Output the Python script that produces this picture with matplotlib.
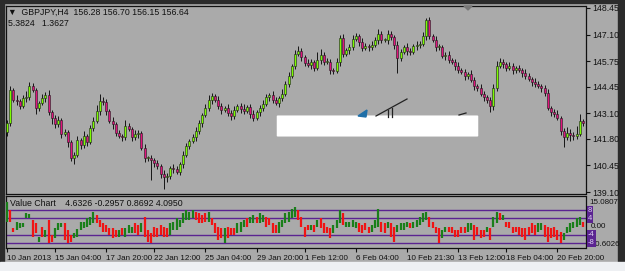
import matplotlib
matplotlib.use('Agg')
import matplotlib.pyplot as plt
import numpy as np
from matplotlib.patches import Rectangle, FancyBboxPatch, Polygon
from matplotlib.lines import Line2D

# --------------------------------------------------
# GBPJPY H4 closes
closes = [142.61, 144.28, 143.77, 143.72, 143.47, 143.88, 143.93, 144.49, 144.28, 143.37,
          143.62, 143.88, 144.03, 143.17, 142.86, 142.55, 142.76, 142.05, 142.15, 141.64,
          140.83, 140.98, 141.74, 141.49, 141.94, 141.64, 142.35, 142.71, 143.22, 143.72,
          143.67, 143.22, 142.71, 142.55, 142.10, 141.94, 141.89, 142.45, 142.30, 141.89,
          142.05, 142.10, 141.34, 140.83, 140.83, 140.73, 140.57, 140.42, 140.01, 139.86,
          139.91, 140.32, 140.27, 140.12, 140.52, 140.98, 141.44, 141.69, 141.89, 142.20,
          142.61, 143.01, 143.37, 143.77, 143.98, 143.77, 143.47, 143.27, 143.37, 143.11,
          142.96, 143.27, 143.47, 143.32, 143.22, 143.42, 143.06, 142.86, 143.17, 143.37,
          143.57, 143.93, 144.03, 143.77, 143.62, 143.88, 144.08, 144.59, 144.99, 145.50,
          146.11, 146.27, 145.96, 145.66, 145.55, 145.71, 145.40, 145.81, 146.06, 145.71,
          145.71, 145.30, 145.25, 145.71, 146.93, 146.11, 146.32, 146.47, 146.87, 147.03,
          146.72, 146.42, 146.52, 146.47, 146.57, 146.82, 147.13, 146.82, 146.82, 147.13,
          146.98, 146.57, 145.91, 146.21, 146.47, 146.27, 146.21, 146.52, 146.57, 146.62,
          147.03, 147.84, 147.03, 146.82, 146.47, 146.47, 146.01, 146.06, 145.81, 145.71,
          145.50, 145.30, 145.20, 144.99, 145.10, 144.79, 144.49, 144.38, 144.08, 143.93,
          143.77, 143.47, 144.38, 145.50, 145.71, 145.60, 145.40, 145.50, 145.30, 145.40,
          145.30, 145.15, 144.99, 144.84, 144.69, 144.59, 144.49, 144.38, 144.13, 143.37,
          143.17, 143.06, 142.86, 142.20, 141.89, 142.10, 141.99, 141.94, 142.05, 142.71,
          142.61]
first_open = 142.15

hi_ext = [.15, .20, .10, .25, .10, .15, .30, .20, .15, .10,
          .10, .20, .15, .25, .10, .15, .20, .10, .15, .10,
          .10, .15, .20, .10, .25, .10, .15, .20, .30, .35,
          .20, .15, .10, .20, .10, .15, .10, .30, .15, .10,
          .20, .15, .10, .20, .10, .15, .10, .15, .10, .20,
          .15, .10, .20, .15, .10, .20, .15, .10, .15, .20,
          .15, .10, .20, .25, .15, .10, .20, .15, .10, .20,
          .15, .20, .10, .15, .25, .10, .15, .20, .10, .15,
          .20, .15, .10, .20, .15, .10, .25, .15, .20, .10,
          .20, .25, .15, .10, .20, .15, .10, .40, .30, .15,
          .20, .15, .10, .20, .15, .20, .10, .15, .20, .15,
          .10, .20, .15, .10, .20, .15, .25, .15, .10, .20,
          .15, .10, .20, .15, .10, .20, .15, .10, .20, .15,
          .20, .10, .15, .10, .20, .15, .10, .15, .20, .10,
          .15, .20, .10, .15, .10, .20, .15, .10, .20, .15,
          .10, .15, .20, .25, .20, .15, .10, .20, .15, .10,
          .15, .10, .20, .15, .10, .20, .15, .10, .15, .20,
          .10, .15, .20, .10, .15, .30, .20, .15, .40, .35,
          .10]
lo_ext = [.20, .15, .10, .20, .15, .10, .20, .15, .10, .30,
          .15, .10, .20, .15, .30, .20, .15, .20, .10, .25,
          .15, .30, .10, .20, .15, .20, .10, .15, .10, .20,
          .15, .20, .10, .25, .15, .10, .20, .15, .10, .20,
          .15, .20, .10, .20, .15, 1.00, .20, .15, .20, .60,
          .25, .15, .20, .10, .15, .20, .10, .15, .10, .20,
          .15, .20, .10, .15, .20, .10, .15, .20, .10, .15,
          .20, .15, .10, .20, .15, .10, .20, .15, .10, .20,
          .15, .10, .20, .15, .10, .20, .15, .10, .15, .10,
          .15, .10, .20, .15, .10, .20, .15, .10, .20, .15,
          .10, .20, .15, .10, .20, .15, .10, .20, .15, .10,
          .20, .15, .10, .20, .15, .10, .20, .15, .10, .20,
          .15, .20, .75, .15, .10, .20, .15, .10, .20, .15,
          .10, .20, .15, .10, .20, .15, .10, .20, .15, .10,
          .20, .15, .10, .20, .15, .10, .20, .15, .10, .20,
          .15, .30, .20, .15, .10, .20, .15, .10, .20, .15,
          .10, .20, .15, .10, .20, .15, .10, .20, .15, .10,
          .20, .15, .10, .20, .50, .15, .30, .20, .15, .10,
          .15]

# Value Chart bars (open, close)
vc_open = [2.0, 8.0, -0.9, -1.75, -0.9, -0.1, 4.0, 4.0, 3.2, 1.5,
           -7.5, -0.1, -5.0, 3.2, -4.2, -5.9, -1.75, -0.1, 1.5, -1.75,
           -4.2, -5.9, -5.0, -1.75, -0.9, -0.1, 0.7, 1.5, 5.7, 3.2,
           1.5, 0.7, -0.9, -0.9, -1.75, -5.0, -0.9, -5.0, -3.4, -3.4,
           1.5, 0.7, -2.6, 4.85, -1.75, -3.4, -0.1, -0.9, 0.7, -0.1,
           -0.9, -4.2, -1.75, -1.75, -0.1, 1.5, 3.2, 3.2, 4.0, 7.3,
           6.5, 5.7, 6.5, 2.4, 4.0, 1.5, -0.1, -0.9, -8.3, -0.1,
           -0.9, -0.9, -3.4, -2.6, -0.1, 4.0, 1.5, 1.5, 4.85, 1.5,
           2.4, 4.85, 4.0, 1.5, 0.7, -3.4, -0.1, 1.5, 2.4, 4.0,
           4.85, 8.1, 4.85, -0.1, 0.7, -1.75, 0.7, -0.1, 4.0, 1.5,
           -0.1, -0.9, -3.4, -0.9, 1.5, 6.5, -0.1, -0.1, -0.1, -0.9,
           1.5, 0.7, 1.5, -0.1, -2.6, -0.9, -0.1, 2.4, 1.5, -0.9,
           1.5, -0.1, -2.6, -1.75, -1.75, -0.1, 1.5, -0.9, -0.1, 0.7,
           2.4, 3.2, 4.85, 2.4, -0.1, -0.9, -5.9, -2.6, -0.1, -0.1,
           -1.75, -1.75, -0.1, -0.1, -2.6, -1.75, 0.7, -0.1, -1.75, -1.75,
           -2.6, -0.9, -0.1, 1.5, 6.5, 3.2, 2.4, 2.4, -0.1, -0.1,
           -0.1, -0.9, -0.9, -0.1, 1.5, 0.7, -2.6, -1.75, 0.7, -0.1,
           -0.9, -0.1, -1.75, -2.6, -6.7, -3.4, -2.6, -0.9, -0.1, 0.7,
           2.4]
vc_close = [12.0, 2.4, -2.6, 2.4, 1.5, 1.5, 6.5, 6.0, -5.0, -3.4,
            -5.0, -5.0, -1.75, -8.3, -7.5, -0.9, 1.5, 1.5, -6.7, -8.3,
            -7.5, -3.4, -1.0, 2.4, 2.4, 4.0, 4.85, 7.3, 1.5, -0.1,
            -2.6, -2.6, -4.2, -5.9, -5.0, -1.75, -4.2, -0.9, 0.7, -0.1,
            -3.4, -4.2, 1.5, -5.0, -7.5, -8.3, -5.0, -5.0, -4.2, -5.0,
            -5.0, 1.5, 2.4, 4.0, 3.2, 6.5, 8.1, 7.3, 8.1, 3.2,
            1.5, 1.5, 2.4, 7.3, 0.7, -3.4, -6.7, -5.9, -0.9, -5.9,
            -4.2, -4.2, 1.5, 2.4, 3.2, -0.1, 4.85, 5.7, 1.5, 6.5,
            5.7, -0.1, 0.7, -3.4, -3.4, 2.4, 3.2, 6.5, 7.3, 8.9,
            9.8, 3.2, -0.1, -5.0, -1.75, 0.7, -2.6, 3.2, -0.9, -3.4,
            -3.4, -5.9, 0.7, 3.2, 8.1, 0.7, 2.4, 2.4, 3.2, 2.4,
            -2.6, -3.4, -1.75, -3.4, 0.7, 3.2, 8.9, -2.6, -3.4, 2.4,
            -5.0, -7.5, 0.7, 1.5, 1.5, 2.4, -0.9, 2.4, 3.2, 4.85,
            6.5, 7.3, -0.1, -0.9, -3.4, -8.3, -1.75, -0.1, -2.6, -3.4,
            -5.0, -5.0, -3.4, -3.4, 1.5, 1.5, -6.7, -4.2, -5.9, -5.0,
            -0.1, -6.7, 4.85, 7.3, 3.2, 5.7, -0.1, -0.9, -3.4, -2.6,
            -4.2, -5.0, -6.7, -4.2, -3.4, -4.2, 1.5, 1.5, -5.0, -7.5,
            -5.9, -5.0, -6.7, -8.3, -3.4, -0.1, 1.5, 2.4, 4.0, 4.85,
            -0.1]
vc_levels = [8, 4, -4, -8]

price_ticks = [148.45, 147.10, 145.75, 144.45, 143.10, 141.80, 140.45, 139.10]
date_idx = [0, 15, 31, 46, 62, 78, 93, 109, 125, 141, 156, 172]
date_labels = ['10 Jan 2013', '15 Jan 04:00', '17 Jan 20:00', '22 Jan 12:00',
               '25 Jan 04:00', '29 Jan 20:00', '1 Feb 12:00', '6 Feb 04:00',
               '10 Feb 21:30', '13 Feb 12:00', '18 Feb 04:00', '20 Feb 20:00']

W, H = 625, 271
BG = '#aaaaaa'
plt.rcParams['font.family'] = ['Liberation Sans', 'DejaVu Sans']


def px(x, y):
    return (x / W, 1 - y / H)


def seg(xa, ya, xb, yb):
    # short line drawn in screen pixels
    pa, pb = px(xa, ya), px(xb, yb)
    fig.add_artist(Line2D([pa[0], pb[0]], [pa[1], pb[1]], transform=fig.transFigure,
                          color='#222222', lw=0.9, zorder=6))


fig = plt.figure(figsize=(W / 100, H / 100), dpi=100, facecolor=BG)

# window frame
fig.add_artist(Rectangle(px(0, 271), 4 / W, 271 / H, transform=fig.transFigure, color='#2b2b2b', zorder=0))
fig.add_artist(Rectangle(px(618, 271), 7 / W, 271 / H, transform=fig.transFigure, color='#2b2b2b', zorder=0))
fig.add_artist(Rectangle(px(0, 3), 1, 3 / H, transform=fig.transFigure, color='#2b2b2b', zorder=0))
fig.add_artist(Rectangle(px(0, 271), 1, 9 / H, transform=fig.transFigure, color='#eef0f3', zorder=1))

x0, x1 = 6, 585.5
ax = fig.add_axes([x0 / W, 1 - 194 / H, (x1 - x0) / W, 188 / H])
ax2 = fig.add_axes([x0 / W, 1 - 248 / H, (x1 - x0) / W, 52 / H])

n = len(closes)
idx = np.arange(n)
c = np.array(closes)
o = np.concatenate([[first_open], c[:-1]])
hi = np.maximum(o, c) + np.array(hi_ext)
lo = np.minimum(o, c) - np.array(lo_ext)
up = c >= o

for a in (ax, ax2):
    a.set_facecolor(BG)
    for s in a.spines.values():
        s.set_color('#111111')
        s.set_linewidth(0.9)
    a.set_xlim(-0.31, 180.8)

# candles
ax.vlines(idx, lo, hi, color='#151515', lw=0.7, zorder=2)
body_lo = np.minimum(o, c)
body_h = np.maximum(np.abs(c - o), 0.03)
ax.bar(idx[up], body_h[up], bottom=body_lo[up], width=0.62,
       color='#7cfc00', edgecolor='#1a1a1a', lw=0.4, zorder=3)
ax.bar(idx[~up], body_h[~up], bottom=body_lo[~up], width=0.62,
       color='#e0147c', edgecolor='#1a1a1a', lw=0.4, zorder=3)

ax.set_ylim(139.0, 148.55)
ax.set_yticks(price_ticks)
ax.set_yticklabels(['%.2f' % p for p in price_ticks])
ax.yaxis.tick_right()
ax.tick_params(axis='y', direction='out', length=3, width=0.8, pad=2,
               labelsize=6.3, colors='#111111')
ax.set_xticks([])

# value chart
vo = np.array(vc_open)
vcl = np.array(vc_close)
vup = vcl >= vo
for lv in vc_levels:
    ax2.axhline(lv, color='#5b2491', lw=1.0, zorder=1)
ax2.vlines(idx[vup], np.minimum(vo, vcl)[vup], np.maximum(vo, vcl)[vup],
           color='#1a7f1a', lw=1.6, zorder=3)
ax2.vlines(idx[~vup], np.minimum(vo, vcl)[~vup], np.maximum(vo, vcl)[~vup],
           color='#f01414', lw=1.6, zorder=3)
ax2.set_ylim(-10.6026, 15.0807)
ax2.set_yticks([])
ax2.set_xticks(date_idx)
ax2.set_xticklabels(date_labels, ha='left')
ax2.tick_params(axis='x', direction='out', length=3, width=0.8, pad=2,
                labelsize=5.8, colors='#111111')

# right-hand labels of the indicator
fig.text(*px(589, 203), '15.0807', fontsize=5.8, va='center', ha='left', color='#111111')
fig.text(*px(591, 227), '0.00', fontsize=5.8, va='center', ha='left', color='#111111')
fig.text(*px(589, 245), '-10.6026', fontsize=5.8, va='center', ha='left', color='#111111')
for lv in vc_levels:
    y = 226.5 - lv * 2.02
    fig.text(*px(588, y), str(lv), fontsize=5.5, va='center', ha='left', color='#dcd0f0',
             bbox=dict(boxstyle='square,pad=0.12', fc='#5b2491', ec='none'), zorder=7)

# headers
fig.text(*px(8, 12), '\u25bc  GBPJPY,H4  156.28 156.70 156.15 156.64', fontsize=6.3,
         va='center', ha='left', color='#111111')
fig.text(*px(8, 23), '5.3824   1.3627', fontsize=6.3, va='center', ha='left', color='#111111')
fig.text(*px(10, 204), 'Value Chart    4.6326 -0.2957 0.8692 4.0950', fontsize=6.3,
         va='center', ha='left', color='#111111')

# shift marker at top
fig.add_artist(Polygon([px(464, 6), px(472, 6), px(468, 10)], closed=True,
                       transform=fig.transFigure, color='#777777', zorder=5))

# whited-out note on the chart
fig.add_artist(FancyBboxPatch(px(278, 136), 199 / W, 20 / H, boxstyle='round,pad=0.002',
                              transform=fig.transFigure, fc='white', ec='none', zorder=6))
seg(376, 116, 407, 99)
seg(388, 110, 388, 117)
seg(392, 108, 392, 117)
seg(459, 115, 466, 113)
fig.add_artist(Polygon([px(358, 116), px(367, 110), px(366, 117)], closed=True,
                       transform=fig.transFigure, color='#1f6fa8', zorder=6))

fig.savefig('out.png', dpi=100, facecolor=BG)
